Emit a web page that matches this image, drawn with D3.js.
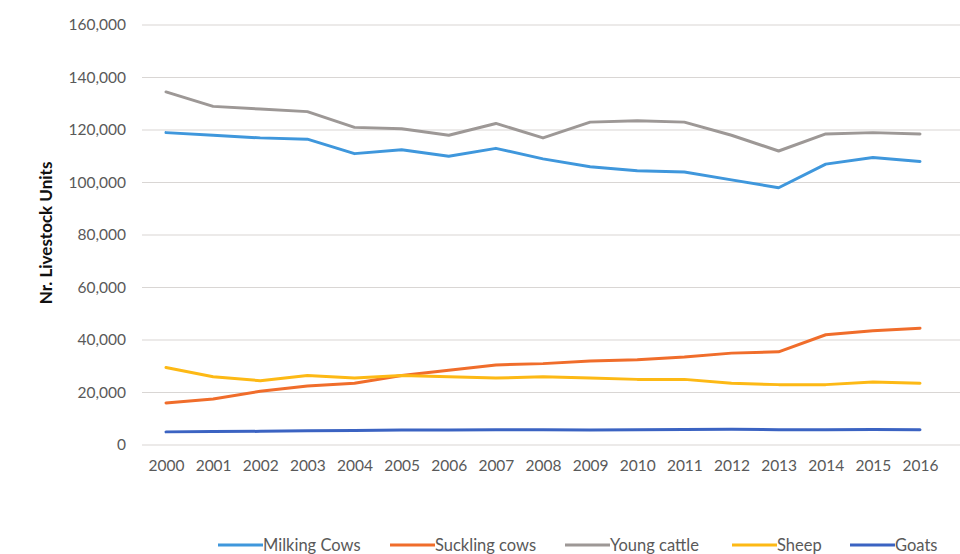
<!DOCTYPE html>
<html>
<head>
<meta charset="utf-8">
<script src="https://cdn.jsdelivr.net/npm/d3@7"></script>
<style>
  html, body { margin: 0; padding: 0; background: #fff; }
  svg { display: block; }
  text { font-family: Lato, "Open Sans", sans-serif; }
</style>
</head>
<body>
<svg id="chart" width="960" height="554"></svg>
<script>
// Livestock units per category, 2000–2016
const years = [2000, 2001, 2002, 2003, 2004, 2005, 2006, 2007, 2008, 2009, 2010, 2011, 2012, 2013, 2014, 2015, 2016];
const milkingCows  = [119000, 118000, 117000, 116500, 111000, 112500, 110000, 113000, 109000, 106000, 104500, 104000, 101000, 98000, 107000, 109500, 108000];
const sucklingCows = [16000, 17500, 20500, 22500, 23500, 26500, 28500, 30500, 31000, 32000, 32500, 33500, 35000, 35500, 42000, 43500, 44500];
const youngCattle  = [134500, 129000, 128000, 127000, 121000, 120500, 118000, 122500, 117000, 123000, 123500, 123000, 118000, 112000, 118500, 119000, 118500];
const sheep        = [29500, 26000, 24500, 26500, 25500, 26500, 26000, 25500, 26000, 25500, 25000, 25000, 23500, 23000, 23000, 24000, 23500];
const goats        = [5000, 5100, 5200, 5400, 5500, 5700, 5700, 5800, 5800, 5700, 5800, 5900, 6000, 5800, 5800, 5900, 5800];
const yTicks = [0, 20000, 40000, 60000, 80000, 100000, 120000, 140000, 160000];

const seriesNames = ["Milking Cows", "Suckling cows", "Young cattle", "Sheep", "Goats"];
const seriesValues = [milkingCows, sucklingCows, youngCattle, sheep, goats];
const seriesColors = ["#3f97dc", "#f06d2b", "#9d9896", "#fdb915", "#3b63c2"];

const svg = d3.select("#chart");

const x = d3.scalePoint().domain(years).range([166, 920]);
const y = d3.scaleLinear().domain([0, 160000]).range([445, 25]);

// horizontal gridlines
svg.append("g")
  .selectAll("line")
  .data(yTicks)
  .join("line")
  .attr("x1", 142).attr("x2", 960)
  .attr("y1", d => y(d)).attr("y2", d => y(d))
  .attr("stroke", "#d9d6d4").attr("stroke-width", 1.2);

// y axis labels
const yAxis = d3.axisLeft(y).tickValues(yTicks).tickFormat(d3.format(",")).tickSize(0).tickPadding(0);
svg.append("g")
  .attr("transform", "translate(126,0)")
  .call(yAxis)
  .call(g => g.select(".domain").remove())
  .call(g => g.selectAll("text")
    .attr("fill", "#595959")
    .style("font-size", "15.5px")
    .style("font-family", "Lato, sans-serif"));

// x axis labels
const xAxis = d3.axisBottom(x).tickSize(0).tickPadding(0);
svg.append("g")
  .attr("transform", "translate(0,460)")
  .call(xAxis)
  .call(g => g.select(".domain").remove())
  .call(g => g.selectAll("text")
    .attr("fill", "#595959")
    .style("font-size", "15.5px")
    .style("font-family", "Lato, sans-serif"));

// axis title
svg.append("text")
  .attr("transform", "translate(46,233) rotate(-90)")
  .attr("text-anchor", "middle")
  .attr("dy", "0.35em")
  .attr("fill", "#111")
  .style("font-size", "17px")
  .style("font-weight", "bold")
  .text("Nr. Livestock Units");

// series lines
const line = d3.line()
  .x((d, i) => x(years[i]))
  .y(d => y(d));

svg.append("g")
  .selectAll("path")
  .data(seriesValues)
  .join("path")
  .attr("d", d => line(d))
  .attr("fill", "none")
  .attr("stroke", (d, i) => seriesColors[i])
  .attr("stroke-width", 3)
  .attr("stroke-linejoin", "round")
  .attr("stroke-linecap", "round");

// legend
const legendX = [218, 390, 565, 732, 850];
const legend = svg.append("g")
  .selectAll("g")
  .data(seriesNames)
  .join("g")
  .attr("transform", (d, i) => `translate(${legendX[i]},545)`);
legend.append("line")
  .attr("x1", 0).attr("x2", 45)
  .attr("stroke", (d, i) => seriesColors[i])
  .attr("stroke-width", 3);
legend.append("text")
  .attr("x", 45)
  .attr("dy", "0.35em")
  .attr("fill", "#595959")
  .style("font-size", "16.5px")
  .text(d => d);
</script>
</body>
</html>
